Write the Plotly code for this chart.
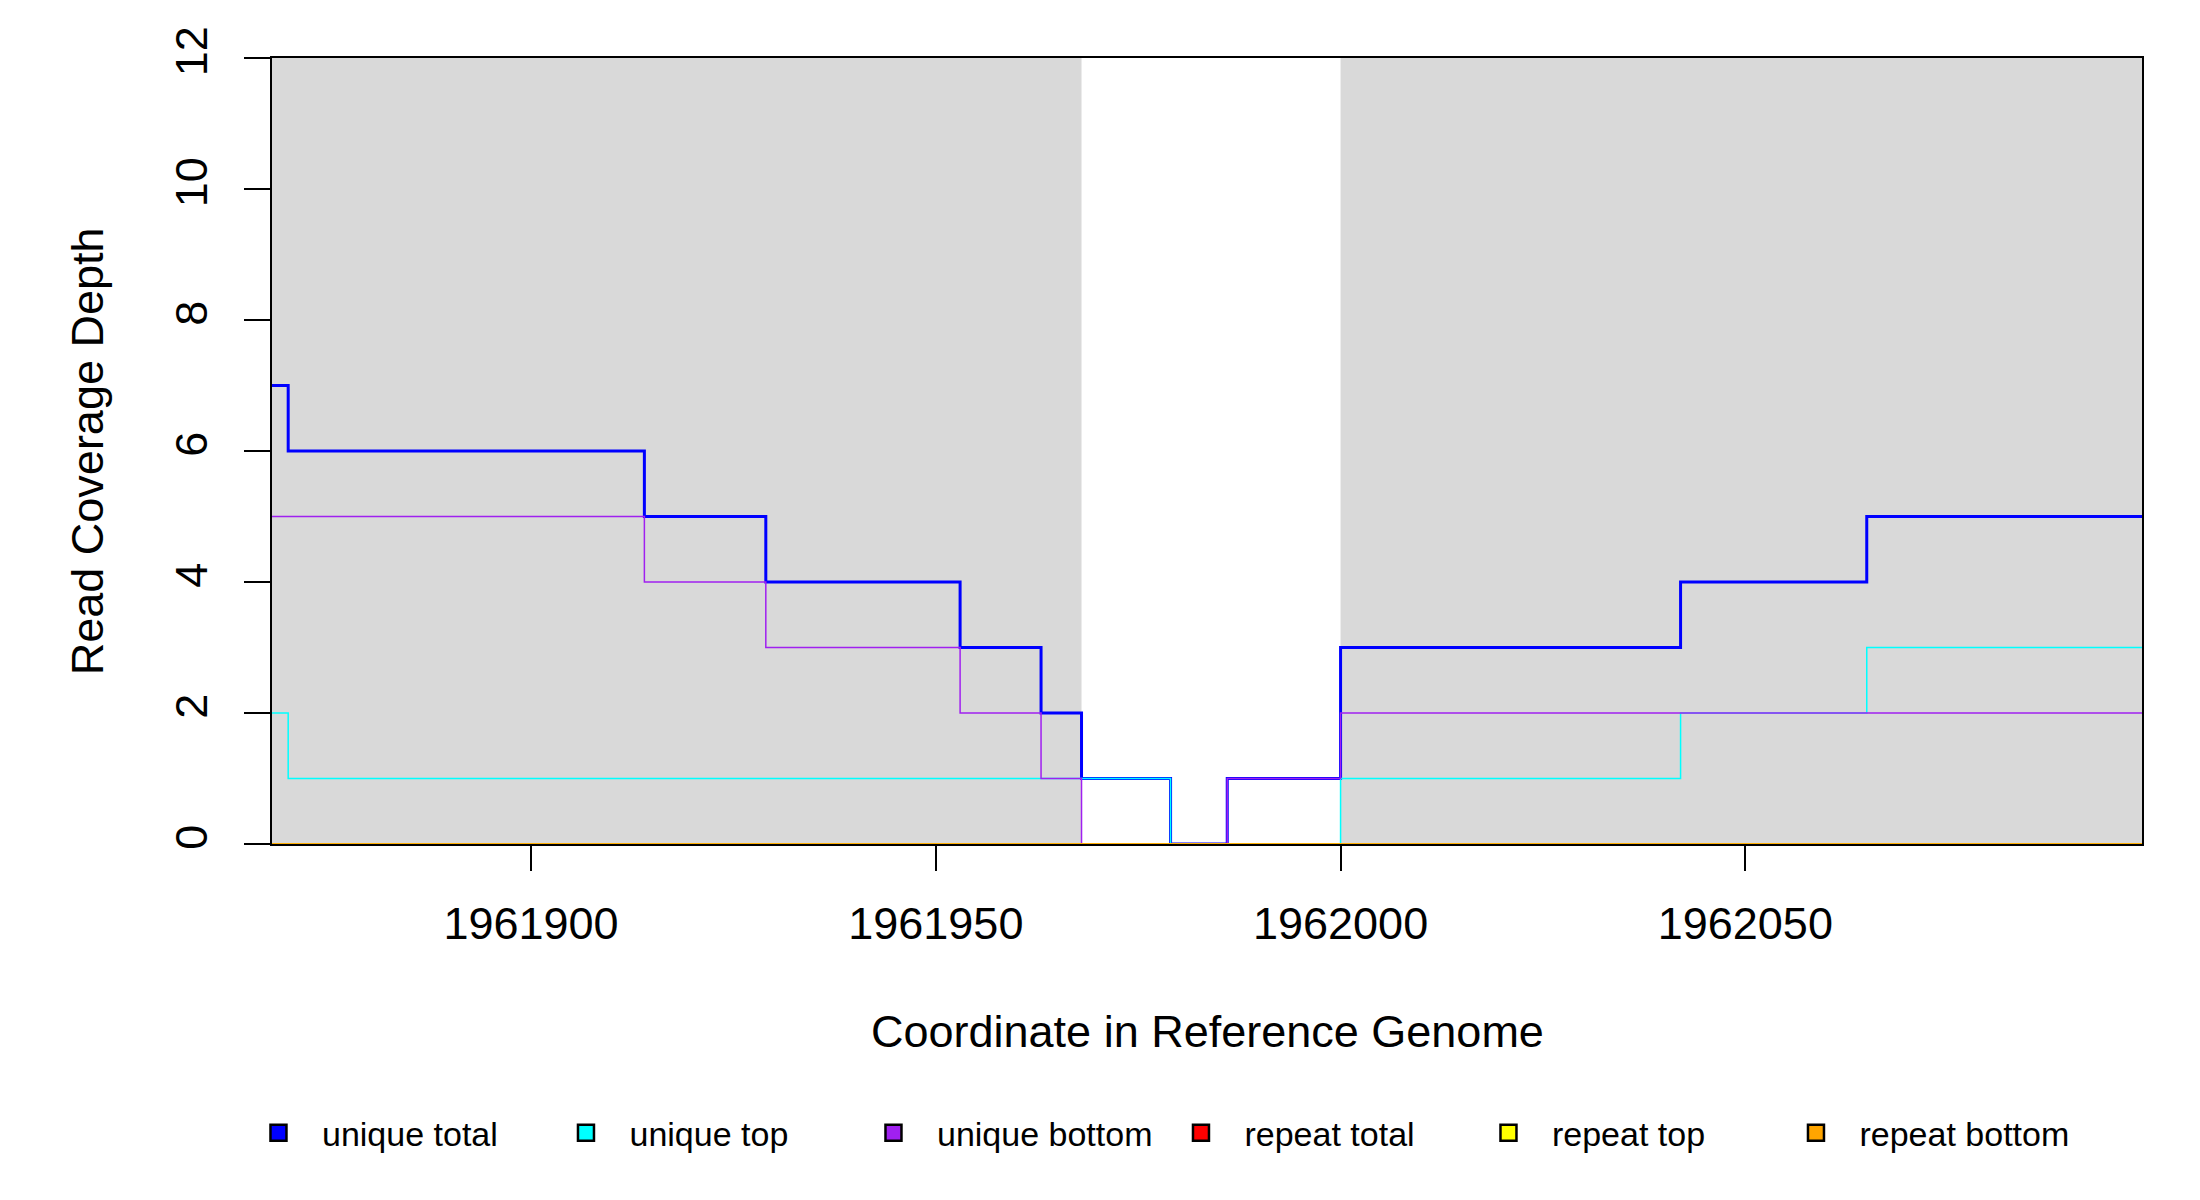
#!/usr/bin/env python3
"""Read coverage depth step plot around a reference genome coordinate window."""
import plotly.graph_objects as go

# segment start coordinates (last value is the right end of the window)
positions = [1961868, 1961870, 1961914, 1961929, 1961953, 1961963, 1961968,
             1961979, 1961986, 1962000, 1962042, 1962065, 1962099]
unique_total = [7, 6, 5, 4, 3, 2, 1, 0, 1, 3, 4, 5, 5]
unique_top = [2, 1, 1, 1, 1, 1, 1, 0, 0, 1, 2, 3, 3]
unique_bottom = [5, 5, 4, 3, 2, 1, 0, 0, 1, 2, 2, 2, 2]
repeat_total = [0] * len(positions)
repeat_top = [0] * len(positions)
repeat_bottom = [0] * len(positions)

# shaded (gray) regions of the window
shaded_regions = [(1961868, 1961968), (1962000, 1962099)]

x_ticks = [1961900, 1961950, 1962000, 1962050]
y_ticks = [0, 2, 4, 6, 8, 10, 12]

series = [
    ("unique total", unique_total, "#0000FF", 3),
    ("unique top", unique_top, "#00FFFF", 1.5),
    ("unique bottom", unique_bottom, "#A020F0", 1.5),
    ("repeat total", repeat_total, "#FF0000", 1.5),
    ("repeat top", repeat_top, "#FFFF00", 1.5),
    ("repeat bottom", repeat_bottom, "#FFA500", 1.5),
]

FONT = "Liberation Sans, Arial, sans-serif"
AXIS_FONT = dict(size=45, color="black", family=FONT)

fig = go.Figure()

for x0, x1 in shaded_regions:
    fig.add_shape(type="rect", xref="x", yref="y", x0=x0, x1=x1, y0=0, y1=12,
                  fillcolor="#D9D9D9", line=dict(width=0), layer="below")

for name, vals, color, width in series:
    fig.add_trace(go.Scatter(
        x=positions, y=vals, mode="lines", name=name, showlegend=False,
        line=dict(color=color, width=width, shape="hv"), hoverinfo="x+y+name",
    ))

# square legend keys
for name, vals, color, width in series:
    fig.add_trace(go.Scatter(
        x=[None], y=[None], mode="markers", name=name,
        marker=dict(symbol="square", size=16, color=color,
                    line=dict(color="black", width=2.5)),
    ))

fig.add_annotation(text="Coordinate in Reference Genome", xref="paper", yref="paper",
                   x=0.5, y=-0.2385, xanchor="center", yanchor="middle",
                   showarrow=False, font=AXIS_FONT)
fig.add_annotation(text="Read Coverage Depth", xref="paper", yref="paper",
                   x=-0.0988, y=0.5, xanchor="center", yanchor="middle", textangle=-90,
                   showarrow=False, font=AXIS_FONT)

fig.update_xaxes(
    range=[positions[0], positions[-1]], tickvals=x_ticks,
    ticktext=[str(t) for t in x_ticks], ticks="outside", ticklen=25,
    tickwidth=1.5, tickcolor="black", ticklabelstandoff=14,
    showgrid=False, zeroline=False,
    showline=True, linecolor="black", linewidth=1.5, mirror=True,
    tickfont=AXIS_FONT,
)
fig.update_yaxes(
    range=[0, 12], tickvals=y_ticks, ticks="outside", ticklen=26,
    tickwidth=1.5, tickcolor="black", tickangle=-90, ticklabelstandoff=19,
    showgrid=False, zeroline=False,
    showline=True, linecolor="black", linewidth=1.5, mirror=True,
    tickfont=AXIS_FONT,
)

# page body adds an 8px offset, so margins are trimmed on left/top
fig.update_layout(
    width=2200, height=1200,
    margin=dict(l=264, r=66, t=50, b=364),
    paper_bgcolor="white", plot_bgcolor="white",
    font=dict(family=FONT, color="black"),
    legend=dict(
        orientation="h", x=-0.0198, y=-0.368, xanchor="left", yanchor="middle",
        entrywidth=215.5, entrywidthmode="pixels", itemwidth=77,
        font=dict(size=34, color="black", family=FONT), bgcolor="rgba(0,0,0,0)",
    ),
)

fig.write_html("out.html")
